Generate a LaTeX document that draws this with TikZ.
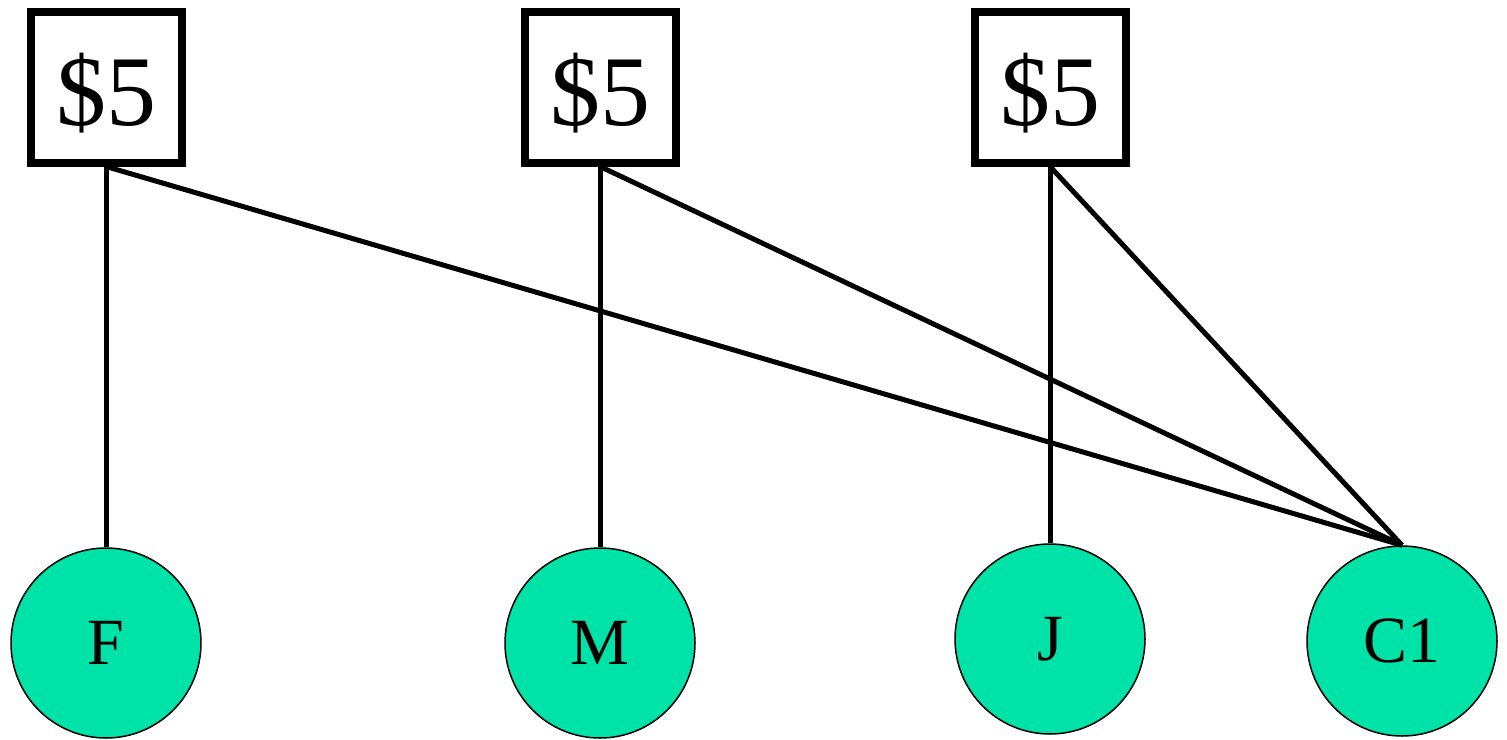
\documentclass[tikz,border=0pt]{standalone}
\usepackage{fontspec}
\setmainfont{Liberation Serif}
\definecolor{nodegreen}{RGB}{0,227,168}
\newcommand{\pricetag}{\raisebox{-6pt}[\height][\depth]{\$5}}
\begin{document}
\begin{tikzpicture}[x=1pt,y=-1pt,
  pricebox/.style={draw=black, line width=8pt, minimum size=151pt, inner sep=0pt,
    font=\fontsize{100}{100}\selectfont},
  person/.style={circle, draw=black, line width=1.5pt, fill=nodegreen, minimum size=190pt,
    inner sep=0pt, font=\fontsize{66}{66}\selectfont},
  link/.style={line width=5pt}]
\useasboundingbox (0,0) rectangle (1507,739);
% price boxes
\node[pricebox] (p1) at (106,87) {\pricetag};
\node[pricebox] (p2) at (600,87) {\pricetag};
\node[pricebox] (p3) at (1050,87) {\pricetag};
% people
\node[person] (f) at (106,643) {F};
\node[person] (m) at (600,643) {M};
\node[person] (j) at (1050,639) {J};
\node[person] (c) at (1402,641) {C1};
% links
\draw[link] (p1.south) -- (f.north);
\draw[link] (p2.south) -- (m.north);
\draw[link] (p3.south) -- (j.north);
\draw[link] (p1.south) -- (c.north);
\draw[link] (p2.south) -- (c.north);
\draw[link] (p3.south) -- (c.north);
\end{tikzpicture}
\end{document}
